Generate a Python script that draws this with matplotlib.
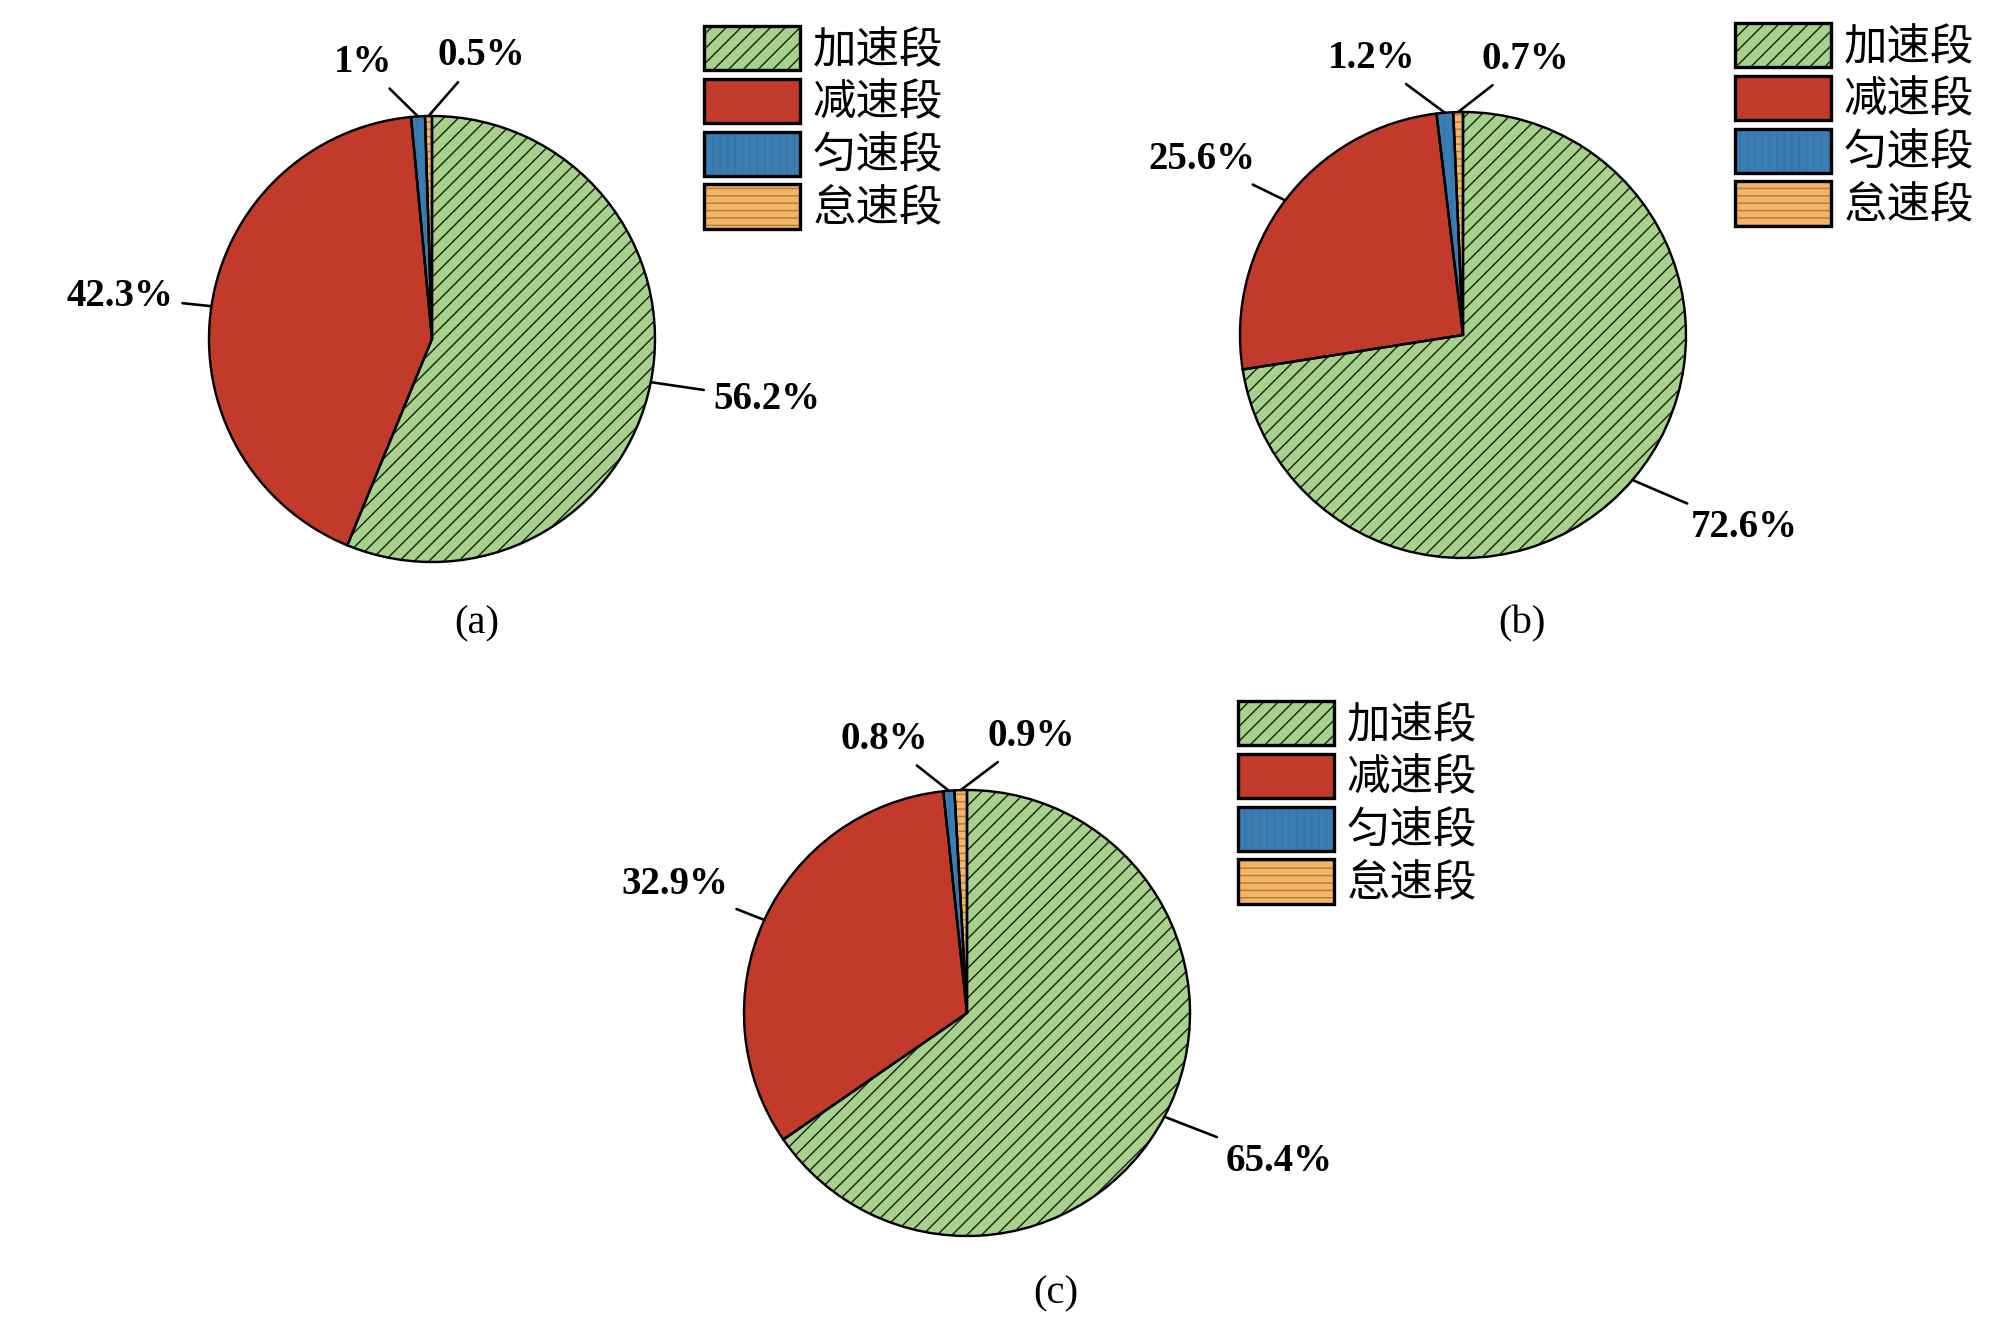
import matplotlib
matplotlib.use("Agg")
import matplotlib.pyplot as plt
from matplotlib.patches import Patch
from matplotlib.legend_handler import HandlerTuple
import numpy as np

plt.rcParams['hatch.linewidth'] = 0.8

# data
phases = ['加速段', '减速段', '匀速段', '怠速段']
share_a = [56.2, 42.3, 1.0, 0.5]
share_b = [72.6, 25.6, 1.2, 0.7]
share_c = [65.4, 32.9, 0.8, 0.9]
text_a = ['56.2%', '42.3%', '1%', '0.5%']
text_b = ['72.6%', '25.6%', '1.2%', '0.7%']
text_c = ['65.4%', '32.9%', '0.8%', '0.9%']
panel_names = ['(a)', '(b)', '(c)']

# styles
fills = ['#a9d18e', '#c23a2a', '#3a7db3', '#f6b467']
hatch_cols = ['#1c2a14', '#b0301f', '#3574a8', '#b0803f']
hatches = ['///', '', '|||', '---']

W, H = 2000, 1342
DPI = 133.333
fig = plt.figure(figsize=(W / DPI, H / DPI), dpi=DPI)

R = 223
# (center px, legend top-left px, label center px, label text offsets in radius units)
panels = [
    dict(vals=share_a, txt=text_a, c=(432, 339), leg=(704, 26), lab=(477, 624),
         pos=[(1.50, -0.27), (-1.40, 0.19), (-0.31, 1.24), (0.22, 1.27)]),
    dict(vals=share_b, txt=text_b, c=(1463, 335), leg=(1735, 23), lab=(1522, 624),
         pos=[(1.26, -0.865), (-1.17, 0.785), (-0.41, 1.24), (0.28, 1.235)]),
    dict(vals=share_c, txt=text_c, c=(967, 1013), leg=(1238, 701), lab=(1056, 1294),
         pos=[(1.40, -0.665), (-1.31, 0.575), (-0.37, 1.225), (0.29, 1.24)]),
]

for p, name in zip(panels, panel_names):
    cx, cy = p['c']
    ax = fig.add_axes([(cx - R) / W, (H - cy - R) / H, 2 * R / W, 2 * R / H])
    wedges, _ = ax.pie(p['vals'], colors=fills, startangle=90, counterclock=False,
                       radius=1, wedgeprops=dict(linewidth=0))
    for w, hc, ht in zip(wedges, hatch_cols, hatches):
        w.set_edgecolor(hc)
        w.set_hatch(ht)
    ax.pie(p['vals'], startangle=90, counterclock=False, radius=1,
           wedgeprops=dict(fill=False, edgecolor='black', linewidth=1.3))
    ax.set_xlim(-1, 1)
    ax.set_ylim(-1, 1)
    ax.set_aspect('auto')
    ax.axis('off')

    for w, t, (tx, ty) in zip(wedges, p['txt'], p['pos']):
        mid = np.deg2rad((w.theta1 + w.theta2) / 2)
        ax.annotate(t, xy=(np.cos(mid), np.sin(mid)), xytext=(tx, ty),
                    ha='center', va='center', fontsize=21, fontweight='bold',
                    family='Liberation Serif', annotation_clip=False,
                    arrowprops=dict(arrowstyle='-', color='black', lw=1.4,
                                    shrinkA=3, shrinkB=0))

    handles = [(Patch(facecolor=f, edgecolor=hc, hatch=ht, linewidth=0),
                Patch(fill=False, edgecolor='black', linewidth=1.8))
               for f, hc, ht in zip(fills, hatch_cols, hatches)]
    lx, ly = p['leg']
    fig.legend(handles, phases, loc='upper left',
               bbox_to_anchor=(lx / W, 1 - ly / H), bbox_transform=fig.transFigure,
               frameon=False, borderpad=0, borderaxespad=0,
               handlelength=2.21, handleheight=1.18, labelspacing=0.14,
               handletextpad=0.28,
               prop=dict(family=['Noto Sans CJK SC', 'DejaVu Sans'], size=23.5),
               handler_map={tuple: HandlerTuple(ndivide=1, pad=0)})

    lx2, ly2 = p['lab']
    fig.text(lx2 / W, 1 - ly2 / H, name, ha='center', va='center',
             fontsize=22, family='Liberation Serif')

fig.savefig('out.png', dpi=DPI, facecolor='white')
